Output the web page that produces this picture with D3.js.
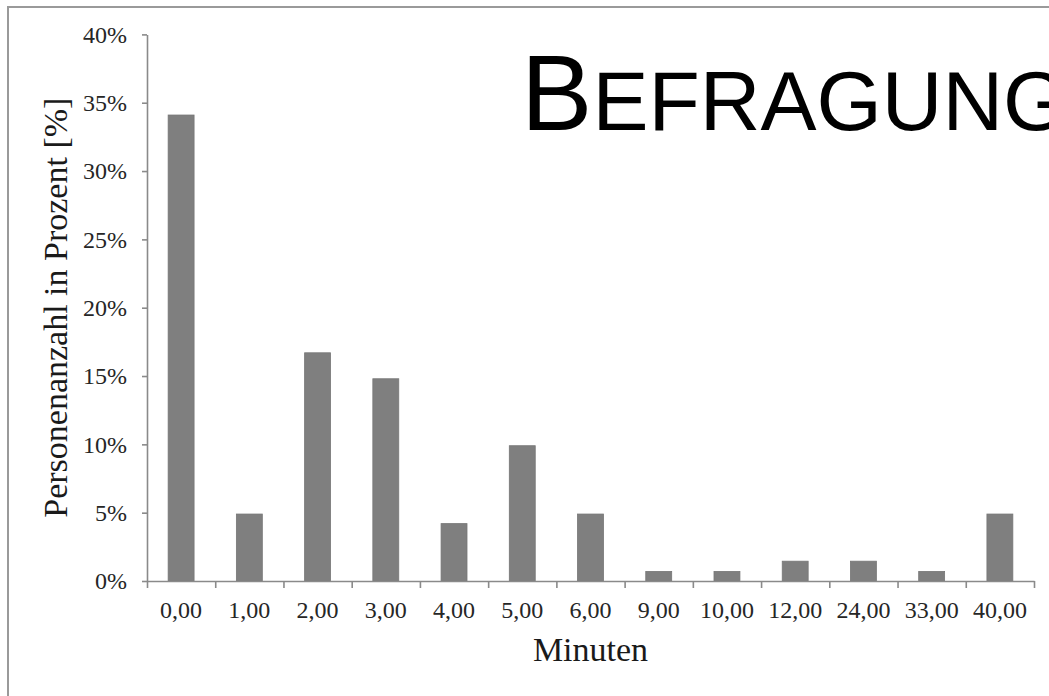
<!DOCTYPE html>
<html>
<head>
<meta charset="utf-8">
<script src="https://cdn.jsdelivr.net/npm/d3@7/dist/d3.min.js"></script>
<style>
  html, body { margin: 0; padding: 0; background: #fff; overflow: hidden; }
  svg { display: block; }
</style>
</head>
<body>
<svg id="chart" width="1049" height="696"></svg>
<script>
// ---- Data ----
const categories = ["0,00", "1,00", "2,00", "3,00", "4,00", "5,00", "6,00", "9,00", "10,00", "12,00", "24,00", "33,00", "40,00"];
const values = [34.1, 4.9, 16.7, 14.8, 4.2, 9.9, 4.9, 0.7, 0.7, 1.45, 1.45, 0.7, 4.9];
const yTicks = [0, 5, 10, 15, 20, 25, 30, 35, 40];
const titleFirst = "B";
const titleRest = "EFRAGUNG";
const yTitle = "Personenanzahl in Prozent [%]";
const xTitle = "Minuten";

(function () {
// ---- Layout ----
const svg = d3.select("#chart");
const plotL = 147, plotR = 1034, plotT = 34.4, plotB = 581;
const serif = "'Liberation Serif', 'Times New Roman', serif";
const sans = "'Liberation Sans', Arial, Helvetica, sans-serif";
const axisColor = "#8a8a8a";

// outer frame (right/bottom edges lie outside the view)
svg.append("rect")
  .attr("x", 8).attr("y", 7)
  .attr("width", 1200).attr("height", 800)
  .attr("fill", "none")
  .attr("stroke", "#9a9a9a")
  .attr("stroke-width", 2);

const x = d3.scaleBand().domain(categories).range([plotL, plotR])
  .paddingInner(0.62).paddingOuter(0.31);
const xEdges = d3.scaleLinear().domain([0, categories.length]).range([plotL, plotR]);
const y = d3.scaleLinear().domain([0, 40]).range([plotB, plotT]);

// bars
svg.append("g").selectAll("rect")
  .data(categories)
  .join("rect")
  .attr("x", (d) => x(d))
  .attr("width", x.bandwidth())
  .attr("y", (d, i) => y(values[i]))
  .attr("height", (d, i) => y(0) - y(values[i]))
  .attr("fill", "#7f7f7f")
  .attr("stroke", "#767676")
  .attr("stroke-width", 0.8);

// y axis
const yAxis = svg.append("g")
  .attr("transform", `translate(${plotL},0)`)
  .call(d3.axisLeft(y).tickValues(yTicks).tickFormat((d) => d + "%")
    .tickSize(5).tickSizeOuter(0).tickPadding(15));
yAxis.select(".domain").attr("stroke", axisColor).attr("stroke-width", 1.6);
yAxis.selectAll(".tick line").attr("stroke", axisColor).attr("stroke-width", 1.6);
yAxis.selectAll(".tick text")
  .attr("font-family", serif).attr("font-size", 24).attr("fill", "#262626");

// x axis: boundary tick marks
const xTickAxis = svg.append("g")
  .attr("transform", `translate(0,${plotB})`)
  .call(d3.axisBottom(xEdges).tickValues(d3.range(categories.length + 1))
    .tickFormat("").tickSize(7).tickSizeOuter(0));
xTickAxis.select(".domain").attr("stroke", axisColor).attr("stroke-width", 1.6);
xTickAxis.selectAll(".tick line").attr("stroke", axisColor).attr("stroke-width", 1.6);

// x axis: category labels
const xLabelAxis = svg.append("g")
  .attr("transform", `translate(0,${plotB})`)
  .call(d3.axisBottom(x).tickSize(0).tickPadding(20));
xLabelAxis.select(".domain").remove();
xLabelAxis.selectAll(".tick text")
  .attr("font-family", serif).attr("font-size", 24).attr("fill", "#262626");

// axis titles
svg.append("text")
  .attr("transform", `translate(67,${(plotT + plotB) / 2}) rotate(-90)`)
  .attr("text-anchor", "middle")
  .attr("font-family", serif).attr("font-size", 34).attr("fill", "#1a1a1a")
  .text(yTitle);

svg.append("text")
  .attr("x", (plotL + plotR) / 2).attr("y", 661)
  .attr("text-anchor", "middle")
  .attr("font-family", serif).attr("font-size", 34).attr("fill", "#1a1a1a")
  .text(xTitle);

// slide title
const title = svg.append("text")
  .attr("x", 521).attr("y", 130)
  .attr("font-family", sans).attr("fill", "#000");
title.append("tspan").attr("font-size", 107).text(titleFirst);
title.append("tspan").attr("font-size", 84).text(titleRest);
})();
</script>
</body>
</html>
